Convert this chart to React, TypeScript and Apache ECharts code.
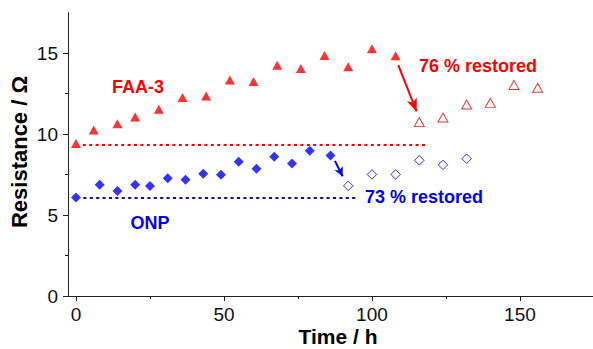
import React, { useEffect, useRef } from "react";
import * as echarts from "echarts";

// FAA-3 membrane (filled = before, open = after restoration)
const faaTime = [0, 6, 14, 20, 28, 36, 44, 52, 60, 68, 76, 84, 92, 100, 108];
const faaRes = [9.42, 10.25, 10.64, 11.05, 11.54, 12.26, 12.35, 13.35, 13.25, 14.26, 14.05, 14.86, 14.16, 15.27, 14.84];
const faaRestTime = [116, 124, 132, 140, 148, 156];
const faaRestRes = [10.74, 11.03, 11.83, 11.93, 13.04, 12.86];

// ONP membrane
const onpTime = [0, 8, 14, 20, 25, 31, 37, 43, 49, 55, 61, 67, 73, 79, 86];
const onpRes = [6.09, 6.87, 6.48, 6.87, 6.79, 7.28, 7.18, 7.55, 7.49, 8.29, 7.86, 8.6, 8.19, 8.97, 8.68];
const onpRestTime = [92, 100, 108, 116, 124, 132];
const onpRestRes = [6.81, 7.51, 7.51, 8.38, 8.1, 8.48];

// initial-resistance reference lines: [value, fromTime, toTime]
const faaBaseline = [9.34, 2.3, 118];
const onpBaseline = [6.04, 2.5, 95];

// arrows: [fromTime, fromRes, toTime, toRes]
const faaArrow = [108.9, 14.26, 115.1, 11.4];
const onpArrow = [87.5, 8.35, 90.1, 7.4];

// ticks
const xMajor = [0, 50, 100, 150];
const xMinor = [25, 75, 125, 175];
const yMajor = [0, 5, 10, 15];
const yMinor = [2.5, 7.5, 12.5];

const xMin = -2.7;
const xMax = 174.7;
const yMin = 0;
const yMax = 17.5;

const RED = "#ff0000";
const BLUE = "#0000ff";
const FONT = "'Liberation Sans', Arial, Helvetica, sans-serif";

const zip = (a: number[], b: number[]) => a.map((v, i) => [v, b[i]]);

export default function App() {
  const ref = useRef<HTMLDivElement>(null);
  useEffect(() => {
    if (!ref.current) return;
    const chart = echarts.init(ref.current, null, { renderer: "svg" });
    const axisColor = "#222";
    const mainX = {
      type: "value",
      min: xMin,
      max: xMax,
      position: "bottom",
      axisLine: { show: true, onZero: false, lineStyle: { color: axisColor, width: 1 } },
      axisTick: { show: true, inside: false, length: 5, customValues: xMajor, lineStyle: { color: axisColor } },
      axisLabel: { show: true, customValues: xMajor, margin: 9, color: "#111", fontSize: 19, fontFamily: FONT },
      splitLine: { show: false },
    };
    const minorX = {
      type: "value",
      min: xMin,
      max: xMax,
      position: "bottom",
      axisLine: { show: false, onZero: false },
      axisTick: { show: true, inside: false, length: 3, customValues: xMinor, lineStyle: { color: axisColor } },
      axisLabel: { show: false },
      splitLine: { show: false },
    };
    const mainY = {
      type: "value",
      min: yMin,
      max: yMax,
      position: "left",
      axisLine: { show: true, onZero: false, lineStyle: { color: axisColor, width: 1 } },
      axisTick: { show: true, inside: false, length: 5, customValues: yMajor, lineStyle: { color: axisColor } },
      axisLabel: { show: true, customValues: yMajor, margin: 10, color: "#111", fontSize: 19, fontFamily: FONT },
      splitLine: { show: false },
    };
    const minorY = {
      type: "value",
      min: yMin,
      max: yMax,
      position: "left",
      axisLine: { show: false, onZero: false },
      axisTick: { show: true, inside: false, length: 3, customValues: yMinor, lineStyle: { color: axisColor } },
      axisLabel: { show: false },
      splitLine: { show: false },
    };

    const refLine = (b: number[], color: string) => ({
      silent: true,
      symbol: ["none", "none"],
      label: { show: false },
      lineStyle: { color, width: 2, type: [3, 3.4] },
      emphasis: { disabled: true },
      data: [[{ coord: [b[1], b[0]] }, { coord: [b[2], b[0]] }]],
    });
    const arrowLine = (a: number[], color: string, size: number[]) => ({
      silent: true,
      symbol: ["none", "arrow"],
      symbolSize: size,
      label: { show: false },
      lineStyle: { color, width: 2, type: "solid" },
      emphasis: { disabled: true },
      data: [[{ coord: [a[0], a[1]] }, { coord: [a[2], a[3]] }]],
    });

    chart.setOption({
      animation: false,
      grid: { left: 68, right: 0, top: 12.7, bottom: 53, containLabel: false },
      xAxis: [mainX, minorX],
      yAxis: [mainY, minorY],
      series: [
        {
          name: "FAA-3",
          type: "scatter",
          symbol: "triangle",
          symbolSize: [10, 9],
          itemStyle: { color: RED },
          data: zip(faaTime, faaRes),
          markLine: refLine(faaBaseline, RED),
        },
        {
          name: "FAA-3 restored",
          type: "scatter",
          symbol: "triangle",
          symbolSize: [10, 9],
          itemStyle: { color: "#ffffff", borderColor: RED, borderWidth: 1 },
          data: zip(faaRestTime, faaRestRes),
          markLine: arrowLine(faaArrow, RED, [8, 13]),
        },
        {
          name: "ONP",
          type: "scatter",
          symbol: "diamond",
          symbolSize: 10,
          itemStyle: { color: BLUE },
          data: zip(onpTime, onpRes),
          markLine: refLine(onpBaseline, BLUE),
        },
        {
          name: "ONP restored",
          type: "scatter",
          symbol: "diamond",
          symbolSize: 9.5,
          itemStyle: { color: "#ffffff", borderColor: BLUE, borderWidth: 1 },
          data: zip(onpRestTime, onpRestRes),
          markLine: arrowLine(onpArrow, BLUE, [7, 9]),
        },
      ],
      graphic: [
        {
          type: "text",
          x: 138,
          y: 87,
          style: { text: "FAA-3", fill: RED, font: `bold 18px ${FONT}`, align: "center", verticalAlign: "middle" },
        },
        {
          type: "text",
          x: 419,
          y: 66,
          style: { text: "76 % restored", fill: RED, font: `bold 18px ${FONT}`, align: "left", verticalAlign: "middle" },
        },
        {
          type: "text",
          x: 150,
          y: 223,
          style: { text: "ONP", fill: BLUE, font: `bold 18px ${FONT}`, align: "center", verticalAlign: "middle" },
        },
        {
          type: "text",
          x: 365,
          y: 197,
          style: { text: "73 % restored", fill: BLUE, font: `bold 18px ${FONT}`, align: "left", verticalAlign: "middle" },
        },
        {
          type: "text",
          x: 338,
          y: 336.5,
          style: {
            text: "Time / h",
            fill: "#000",
            font: `bold 21px ${FONT}`,
            align: "center",
            verticalAlign: "middle",
          },
        },
        {
          type: "text",
          x: 19.5,
          y: 152,
          rotation: Math.PI / 2,
          style: { text: "Resistance / Ω", fill: "#000", font: `bold 22px ${FONT}`, align: "center", verticalAlign: "middle" },
        },
      ],
    });
    return () => chart.dispose();
  }, []);
  return (
    <div
      ref={ref}
      style={{ position: "absolute", left: 0, top: 0, width: 593, height: 349, background: "#fff" }}
    />
  );
}
